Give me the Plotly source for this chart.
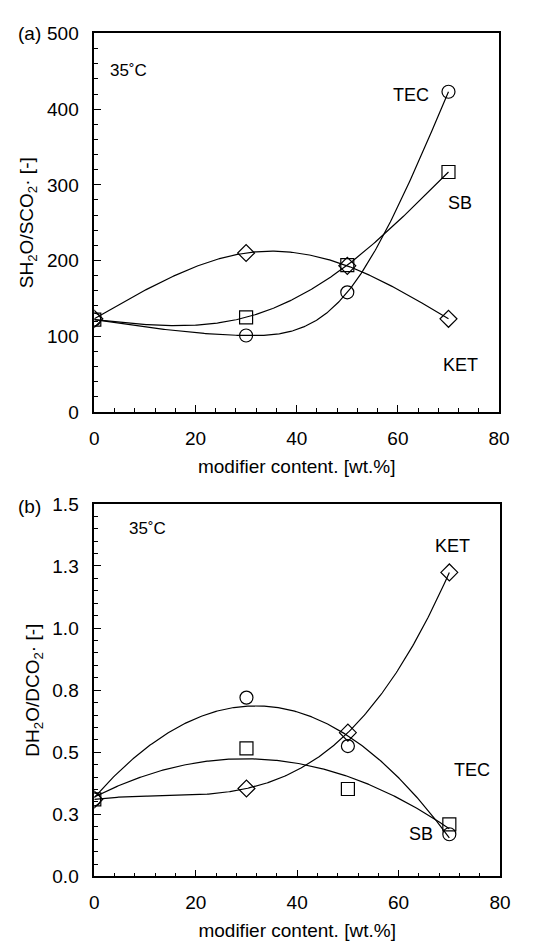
import numpy as np
import plotly.graph_objects as go

# ---------------- data ----------------
content = [0, 30, 50, 70]

sel_tec = [122, 101, 158, 423]
sel_sb = [122, 125, 194, 317]
sel_ket = [123, 210, 193, 123]

dif_tec = [0.31, 0.72, 0.525, 0.17]
dif_sb = [0.31, 0.516, 0.352, 0.21]
dif_ket = [0.31, 0.354, 0.579, 1.224]

x_ticks = [0, 20, 40, 60, 80]
sel_ticks = [0, 100, 200, 300, 400, 500]
dif_tickvals = [0, 0.25, 0.5, 0.75, 1.0, 1.25, 1.5]
dif_ticktext = ["0.0", "0.3", "0.5", "0.8", "1.0", "1.3", "1.5"]

# ---------------- figure ----------------
W, H = 546, 952
FONT = "Liberation Sans, Arial, Helvetica, sans-serif"
fig = go.Figure()

xs = np.linspace(0, 70, 281)


def poly_curve(y, deg):
    c = np.polyfit(content, y, deg)
    return np.polyval(c, xs)


def natural_spline(y):
    x = np.asarray(content, float)
    y = np.asarray(y, float)
    n = len(x)
    h = np.diff(x)
    s = np.diff(y) / h
    A = np.zeros((n, n))
    b = np.zeros(n)
    A[0, 0] = 1
    A[-1, -1] = 1
    for i in range(1, n - 1):
        A[i, i - 1] = h[i - 1]
        A[i, i] = 2 * (h[i - 1] + h[i])
        A[i, i + 1] = h[i]
        b[i] = 6 * (s[i] - s[i - 1])
    M = np.linalg.solve(A, b)
    out = np.empty_like(xs)
    for j, xv in enumerate(xs):
        i = min(np.searchsorted(x, xv, side="right") - 1, n - 2)
        i = max(i, 0)
        t1 = x[i + 1] - xv
        t0 = xv - x[i]
        out[j] = (M[i] * t1 ** 3 + M[i + 1] * t0 ** 3) / (6 * h[i]) \
            + (y[i] / h[i] - M[i] * h[i] / 6) * t1 + (y[i + 1] / h[i] - M[i + 1] * h[i] / 6) * t0
    return out


line_style = dict(color="black", width=1.2)

# top panel curves
for vals in (sel_tec, sel_sb, sel_ket):
    fig.add_trace(go.Scatter(x=xs, y=natural_spline(vals), mode="lines", line=line_style,
                             xaxis="x", yaxis="y", showlegend=False, hoverinfo="skip"))

# bottom panel curves
fig.add_trace(go.Scatter(x=xs, y=poly_curve(dif_tec, 2), mode="lines", line=line_style,
                         xaxis="x2", yaxis="y2", showlegend=False, hoverinfo="skip"))
fig.add_trace(go.Scatter(x=xs, y=poly_curve(dif_sb, 2), mode="lines", line=line_style,
                         xaxis="x2", yaxis="y2", showlegend=False, hoverinfo="skip"))
fig.add_trace(go.Scatter(x=xs, y=poly_curve(dif_ket, 3), mode="lines", line=line_style,
                         xaxis="x2", yaxis="y2", showlegend=False, hoverinfo="skip"))

for xa, ya, series in [("x", "y", (sel_tec, sel_sb, sel_ket)), ("x2", "y2", (dif_tec, dif_sb, dif_ket))]:
    for vals, sym, sz in zip(series, ["circle-open", "square-open", "diamond-open"], [13, 13, 13]):
        fig.add_trace(go.Scatter(x=content, y=vals, mode="markers",
                                 marker=dict(symbol=sym, size=sz, color="black", line=dict(color="black", width=1.2)),
                                 xaxis=xa, yaxis=ya, showlegend=False))

TICK = 19
axis_common = dict(
    showgrid=False, zeroline=False, showline=True, linecolor="black", linewidth=1.6,
    mirror=True, ticks="inside", ticklen=7, tickwidth=1.2, tickcolor="black",
    tickfont=dict(family=FONT, size=TICK, color="black"),
)
minor_x = dict(dtick=4, ticks="inside", ticklen=4, tickcolor="black", tickwidth=1)

fig.update_layout(
    width=W, height=H,
    margin=dict(l=0, r=0, t=0, b=0),
    paper_bgcolor="white", plot_bgcolor="white",
    font=dict(family=FONT, color="black"),
    xaxis=dict(domain=[92 / W, 509 / W], range=[0, 80], tickvals=x_ticks, anchor="y",
               minor=minor_x, ticklabelstandoff=8,
               title=dict(text="modifier content. [wt.%]", font=dict(family=FONT, size=19), standoff=12),
               **axis_common),
    yaxis=dict(domain=[1 - 411 / H, 1 - 24 / H], range=[0, 500], tickvals=sel_ticks, anchor="x",
               minor=dict(dtick=20, ticks="inside", ticklen=4, tickcolor="black", tickwidth=1),
               ticklabelstandoff=10,
               title=dict(text="SH<sub>2</sub>O/SCO<sub>2</sub>· [-]", font=dict(family=FONT, size=19), standoff=8),
               **axis_common),
    xaxis2=dict(domain=[92 / W, 510 / W], range=[0, 80], tickvals=x_ticks, anchor="y2",
                minor=minor_x, ticklabelstandoff=8,
                title=dict(text="modifier content. [wt.%]", font=dict(family=FONT, size=19), standoff=12),
                **axis_common),
    yaxis2=dict(domain=[1 - 886 / H, 1 - 505 / H], range=[0, 1.5], tickvals=dif_tickvals,
                ticktext=dif_ticktext, anchor="x2",
                minor=dict(dtick=0.05, ticks="inside", ticklen=4, tickcolor="black", tickwidth=1),
                ticklabelstandoff=10,
                title=dict(text="DH<sub>2</sub>O/DCO<sub>2</sub>· [-]", font=dict(family=FONT, size=19), standoff=8),
                **axis_common),
)

ann_font = dict(family=FONT, size=18, color="black")
t_font = dict(family=FONT, size=17, color="black")
annotations = [
    dict(text="(a)", x=11 / W, y=1 - 24 / H, xref="paper", yref="paper", xanchor="left", yanchor="middle",
         showarrow=False, font=dict(family=FONT, size=19, color="black")),
    dict(text="(b)", x=11 / W, y=1 - 508 / H, xref="paper", yref="paper", xanchor="left", yanchor="middle",
         showarrow=False, font=dict(family=FONT, size=19, color="black")),
    dict(text="35˚C", x=6.7, y=451, xref="x", yref="y", showarrow=False, font=t_font),
    dict(text="TEC", x=62.6, y=419, xref="x", yref="y", showarrow=False, font=ann_font),
    dict(text="SB", x=72.2, y=276, xref="x", yref="y", showarrow=False, font=ann_font),
    dict(text="KET", x=72.4, y=62, xref="x", yref="y", showarrow=False, font=ann_font),
    dict(text="35˚C", x=10.5, y=1.40, xref="x2", yref="y2", showarrow=False, font=t_font),
    dict(text="KET", x=70.6, y=1.33, xref="x2", yref="y2", showarrow=False, font=ann_font),
    dict(text="TEC", x=74.4, y=0.43, xref="x2", yref="y2", showarrow=False, font=ann_font),
    dict(text="SB", x=64.5, y=0.17, xref="x2", yref="y2", showarrow=False, font=ann_font),
]
fig.update_layout(annotations=annotations)

fig.write_html("out.html")
